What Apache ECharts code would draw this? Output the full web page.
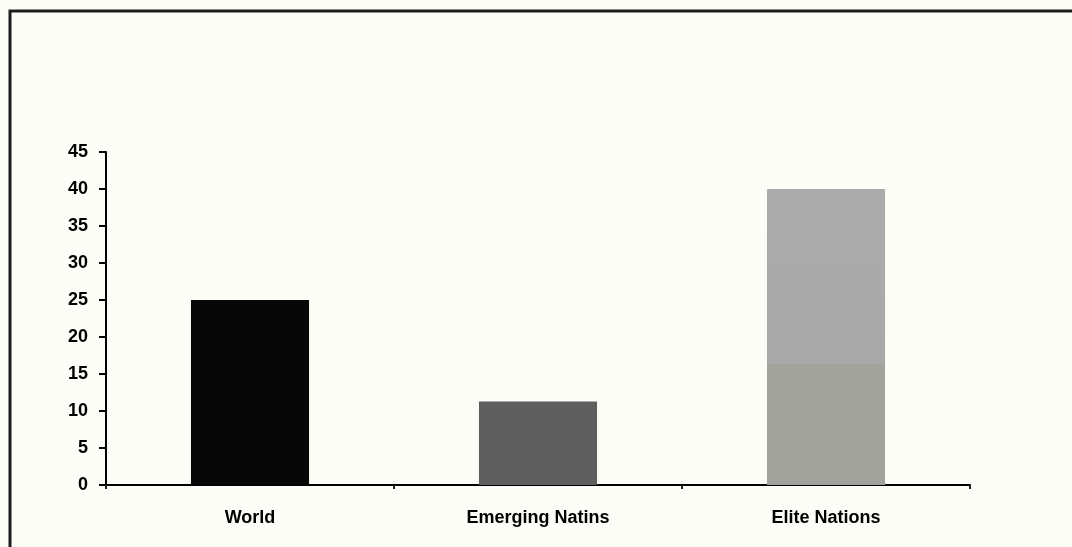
<!DOCTYPE html>
<html>
<head>
<meta charset="utf-8">
<script src="https://cdn.jsdelivr.net/npm/echarts@6/dist/echarts.min.js"></script>
<style>
  html, body { margin: 0; padding: 0; background: #fdfdf8; }
  #chart { width: 1072px; height: 547px; }
</style>
</head>
<body>
<div id="chart"></div>
<script>
// Categories and values
const categories = ['World', 'Emerging Natins', 'Elite Nations'];
const values = [25, 11.3, 40];
const yTicks = { min: 0, max: 45, interval: 5 };

const barColors = [
  '#070707',
  '#5f5f5f',
  {
    type: 'linear', x: 0, y: 0, x2: 0, y2: 1,
    colorStops: [
      { offset: 0, color: '#ababab' },
      { offset: 0.59, color: '#a9a9a9' },
      { offset: 0.59, color: '#a3a39e' },
      { offset: 1, color: '#a2a29c' }
    ]
  }
];

const chart = echarts.init(document.getElementById('chart'));
const labelFont = { fontFamily: 'Liberation Sans, Arial, sans-serif', fontWeight: 'bold', fontSize: 18, color: '#000' };

chart.setOption({
  backgroundColor: '#fdfdf8',
  animation: false,
  grid: { left: 106, right: 102, top: 152, bottom: 62 },
  graphic: [{
    type: 'polyline',
    shape: { points: [[10, 547], [10, 11], [1072, 11]] },
    style: { stroke: '#1c1c1c', lineWidth: 3, fill: null }
  }],
  xAxis: {
    type: 'category',
    data: categories,
    axisLine: { lineStyle: { color: '#000', width: 2 } },
    axisTick: { show: true, alignWithLabel: false, length: 4, lineStyle: { color: '#222', width: 2 } },
    axisLabel: Object.assign({ margin: 24 }, labelFont)
  },
  yAxis: {
    type: 'value',
    min: yTicks.min, max: yTicks.max, interval: yTicks.interval,
    splitLine: { show: false },
    axisLine: { show: true, lineStyle: { color: '#000', width: 2 } },
    axisTick: { show: true, inside: false, length: 7, lineStyle: { color: '#000', width: 2 } },
    axisLabel: Object.assign({ margin: 18 }, labelFont)
  },
  series: [{
    type: 'bar',
    barWidth: '41%',
    data: values.map((v, i) => ({ value: v, itemStyle: { color: barColors[i] } }))
  }]
});
</script>
</body>
</html>
